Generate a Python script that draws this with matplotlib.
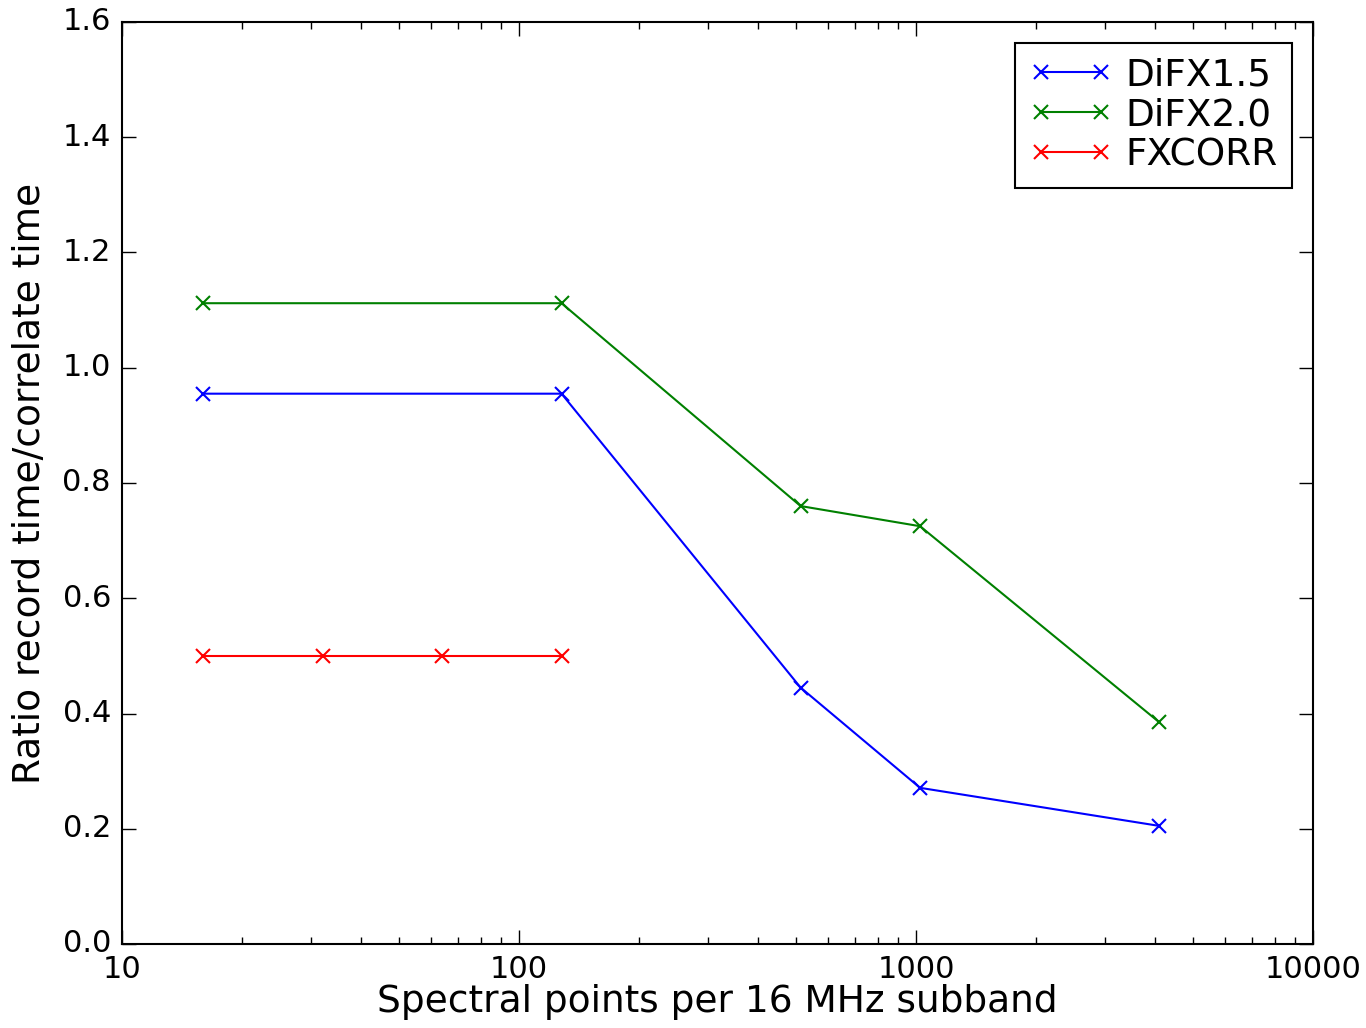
import matplotlib
matplotlib.use("Agg")
import matplotlib.pyplot as plt

# values
difx15_x = [16, 128, 512, 1024, 4096]
difx15_y = [0.955, 0.955, 0.445, 0.271, 0.205]
difx20_x = [16, 128, 512, 1024, 4096]
difx20_y = [1.112, 1.112, 0.760, 0.725, 0.385]
fxcorr_x = [16, 32, 64, 128]
fxcorr_y = [0.50, 0.50, 0.50, 0.50]

plt.style.use('classic')
plt.rcParams['font.family'] = ['DejaVu Sans']

fig = plt.figure(figsize=(13.66, 10.28), dpi=100, facecolor='white')
ax = fig.add_axes([122 / 1366, 1 - 944 / 1028, (1313 - 122) / 1366, (944 - 22) / 1028])
ax.set_facecolor('white')

ax.plot(difx15_x, difx15_y, color='blue', marker='x', markersize=10, mew=1.5, lw=1.5, label='DiFX1.5')
ax.plot(difx20_x, difx20_y, color='green', marker='x', markersize=10, mew=1.5, lw=1.5, label='DiFX2.0')
ax.plot(fxcorr_x, fxcorr_y, color='red', marker='x', markersize=10, mew=1.5, lw=1.5, label='FXCORR')

ax.set_xscale('log')
ax.set_xlim(10, 10000)
ax.set_ylim(0.0, 1.6)
ax.set_xticks([10, 100, 1000, 10000])
ax.set_xticklabels(['10', '100', '1000', '10000'])
ax.set_yticks([0.0, 0.2, 0.4, 0.6, 0.8, 1.0, 1.2, 1.4, 1.6])
ax.tick_params(axis='both', which='major', direction='in', length=10, width=1,
               labelsize=22, top=True, right=True, pad=8)
ax.tick_params(axis='both', which='minor', direction='in', length=5, width=1,
               top=True, right=True)
for sp in ax.spines.values():
    sp.set_linewidth(1.5)

ax.set_xlabel('Spectral points per 16 MHz subband', fontsize=27, labelpad=0)
ax.set_ylabel('Ratio record time/correlate time', fontsize=27, labelpad=10)

leg = ax.legend(loc='upper right', numpoints=2, fontsize=27, fancybox=False,
                handlelength=2.2, borderpad=0.4, labelspacing=0.1, handletextpad=0.35,
                borderaxespad=0.55)
leg.get_frame().set_edgecolor('black')
leg.get_frame().set_linewidth(1.5)

fig.savefig('out.png', dpi=100, facecolor='white')
